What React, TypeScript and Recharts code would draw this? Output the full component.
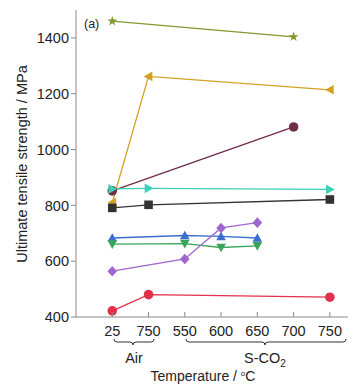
import { LineChart, Line, XAxis, YAxis } from 'recharts'

// x positions: 1..7 map to the category ticks below
const TICK_POS = [1, 2, 3, 4, 5, 6, 7]
const TICK_LABELS = ['25', '750', '550', '600', '650', '700', '750']
const Y_TICKS = [400, 600, 800, 1000, 1200, 1400]

const starX = [1, 6]
const starY = [1460, 1404]
const goldX = [1, 2, 7]
const goldY = [810, 1262, 1214]
const maroonX = [1, 6]
const maroonY = [852, 1081]
const cyanX = [1, 2, 7]
const cyanY = [859, 861, 857]
const blackX = [1, 2, 7]
const blackY = [791, 802, 821]
const blueX = [1, 3, 4, 5]
const blueY = [683, 692, 689, 683]
const greenX = [1, 3, 4, 5]
const greenY = [661, 663, 649, 655]
const violetX = [1, 3, 4, 5]
const violetY = [564, 608, 719, 738]
const redX = [1, 2, 7]
const redY = [422, 480, 471]

const SERIES = [
  { id: 'star', xs: starX, ys: starY, color: '#7f9a2e', shape: 'star' },
  { id: 'gold', xs: goldX, ys: goldY, color: '#d4a020', shape: 'left' },
  { id: 'maroon', xs: maroonX, ys: maroonY, color: '#6e2d48', shape: 'circle' },
  { id: 'cyan', xs: cyanX, ys: cyanY, color: '#3ccfb8', shape: 'right' },
  { id: 'black', xs: blackX, ys: blackY, color: '#333333', shape: 'square' },
  { id: 'blue', xs: blueX, ys: blueY, color: '#3a6fd0', shape: 'up' },
  { id: 'green', xs: greenX, ys: greenY, color: '#3aa55a', shape: 'down' },
  { id: 'violet', xs: violetX, ys: violetY, color: '#a066d0', shape: 'diamond' },
  { id: 'red', xs: redX, ys: redY, color: '#e0304a', shape: 'circle' },
]

const FONT = '"Liberation Sans", Arial, sans-serif'
const AXIS = '#8a8a8a'

function Marker({ cx, cy, color, shape }: any) {
  if (cx == null || cy == null) return null
  const r = 4.8
  if (shape === 'circle') return <circle cx={cx} cy={cy} r={r} fill={color} />
  if (shape === 'square') return <rect x={cx - 4.3} y={cy - 4.3} width={8.6} height={8.6} fill={color} />
  let pts: number[][] = []
  if (shape === 'up') pts = [[0, -r], [r, r * 0.8], [-r, r * 0.8]]
  if (shape === 'down') pts = [[0, r], [r, -r * 0.8], [-r, -r * 0.8]]
  if (shape === 'left') pts = [[-r, 0], [r * 0.8, -r], [r * 0.8, r]]
  if (shape === 'right') pts = [[r, 0], [-r * 0.8, -r], [-r * 0.8, r]]
  if (shape === 'diamond') pts = [[0, -r - 0.5], [r, 0], [0, r + 0.5], [-r, 0]]
  if (shape === 'star') {
    for (let i = 0; i < 10; i++) {
      const a = -Math.PI / 2 + (i * Math.PI) / 5
      const rr = i % 2 === 0 ? r + 0.5 : 2
      pts.push([Math.cos(a) * rr, Math.sin(a) * rr])
    }
  }
  return <polygon points={pts.map(p => `${cx + p[0]},${cy + p[1]}`).join(' ')} fill={color} />
}

function XTick({ x, y, payload }: any) {
  const label = TICK_LABELS[TICK_POS.indexOf(payload.value)]
  return (
    <g>
      <line x1={x} x2={x} y1={y - 5} y2={y} stroke={AXIS} />
      <text x={x} y={y + 19} textAnchor="middle" fontSize={14.5} fontFamily={FONT} fill="#222">{label}</text>
    </g>
  )
}

export default function App() {
  return (
    <div style={{ position: 'absolute', left: 0, top: 0, width: 357, height: 387, background: '#fff' }}>
      <LineChart width={357} height={387} margin={{ top: 10, right: 9, left: 0, bottom: 0 }}>
        <XAxis type="number" dataKey="x" domain={[0, 7.5]} ticks={TICK_POS} interval={0} allowDuplicatedCategory={false}
          height={70} tickLine={false} tickSize={0} tickMargin={0} tick={<XTick />} axisLine={{ stroke: AXIS }} />
        <XAxis xAxisId="top" orientation="top" type="number" domain={[0, 7.5]} height={0} tick={false} tickLine={false} axisLine={{ stroke: AXIS }} />
        <YAxis type="number" domain={[400, 1500]} ticks={Y_TICKS} width={76} tickSize={5} tickMargin={2}
          tick={{ fontSize: 14.5, fontFamily: FONT, fill: '#222' }} tickLine={{ stroke: AXIS }} axisLine={{ stroke: AXIS }} />
        <YAxis yAxisId="right" orientation="right" domain={[400, 1500]} width={0} tick={false} tickLine={false} axisLine={{ stroke: AXIS }} />
        {SERIES.map(s => (
          <Line key={s.id} data={s.xs.map((x, i) => ({ x, y: s.ys[i] }))} dataKey="y" stroke={s.color} strokeWidth={1.3}
            isAnimationActive={false}
            dot={(p: any) => <Marker key={`${s.id}-${p.index}`} cx={p.cx} cy={p.cy} color={s.color} shape={s.shape} />}
            activeDot={false} />
        ))}
      </LineChart>
      <svg width={357} height={387} style={{ position: 'absolute', left: 0, top: 0, pointerEvents: 'none' }}>
        <text x={84} y={28} fontSize={12.5} fontFamily={FONT} fill="#222">(a)</text>
        <text transform="translate(27,164) rotate(-90)" textAnchor="middle" fontSize={14.5} fontFamily={FONT} fill="#222">
          Ultimate tensile strength / MPa
        </text>
        <path d="M114,339 Q114,342 117,342 L130,342 Q133,342 133,345 Q133,342 136,342 L151,342 Q154,342 154,339" fill="none" stroke="#333" strokeWidth={1} />
        <path d="M186,339 Q186,342 189,342 L262,342 Q265,342 265,345 Q265,342 268,342 L343,342 Q346,342 346,339" fill="none" stroke="#333" strokeWidth={1} />
        <text x={134} y={363} textAnchor="middle" fontSize={14.5} fontFamily={FONT} fill="#222">Air</text>
        <text x={265} y={363} textAnchor="middle" fontSize={14.5} fontFamily={FONT} fill="#222">
          S-CO<tspan fontSize={10} dy={4}>2</tspan>
        </text>
        <text x={203} y={381} textAnchor="middle" fontSize={14} fontFamily={FONT} fill="#222">
          Temperature / <tspan fontSize={8} dy={-5}>o</tspan><tspan dy={5}>C</tspan>
        </text>
      </svg>
    </div>
  )
}
